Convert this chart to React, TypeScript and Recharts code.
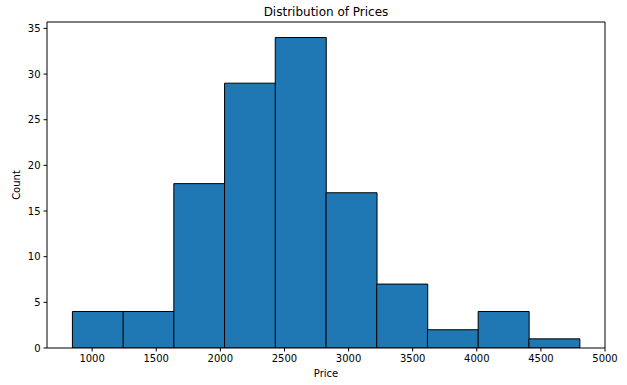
import { Bar, BarChart, XAxis, YAxis, Label, ReferenceLine } from "recharts";

// histogram bins (edges) and counts
const binStart = [846, 1242, 1637, 2033, 2428, 2824, 3220, 3615, 4011, 4406];
const binEnd = [1242, 1637, 2033, 2428, 2824, 3220, 3615, 4011, 4406, 4802];
const counts = [4, 4, 18, 29, 34, 17, 7, 2, 4, 1];

const xTicks = [1000, 1500, 2000, 2500, 3000, 3500, 4000, 4500, 5000];
const yTicks = [0, 5, 10, 15, 20, 25, 30, 35];

const X_DOMAIN: [number, number] = [648, 5000];
const Y_DOMAIN: [number, number] = [0, 35.7];

const data = counts.map((c, i) => ({
  mid: (binStart[i] + binEnd[i]) / 2,
  count: c,
}));

const FONT = "DejaVu Sans, sans-serif";
const tickStyle = { fontSize: 10, fill: "#000", fontFamily: FONT };

export default function App() {
  return (
    <div style={{ position: "absolute", left: 0, top: 0, width: 627, height: 385, background: "#fff" }}>
      <BarChart
        width={627}
        height={385}
        data={data}
        margin={{ top: 22, right: 22, bottom: 17, left: 10 }}
        barCategoryGap={0}
        barGap={0}
      >
        <text x={326} y={16} textAnchor="middle" fontSize={12} fontFamily={FONT} fill="#000">
          Distribution of Prices
        </text>
        <XAxis
          dataKey="mid"
          type="number"
          domain={X_DOMAIN}
          ticks={xTicks}
          allowDataOverflow
          tick={tickStyle}
          tickSize={3.5}
          tickMargin={3}
          stroke="#000"
          height={20}
        >
          <Label value="Price" position="insideBottom" offset={-9} style={{ fontSize: 10, fill: "#000", fontFamily: FONT }} />
        </XAxis>
        <YAxis
          domain={Y_DOMAIN}
          ticks={yTicks}
          allowDataOverflow
          tick={tickStyle}
          tickSize={3.5}
          tickMargin={3}
          stroke="#000"
          width={37}
        >
          <Label value="Count" angle={-90} position="insideLeft" offset={6} style={{ fontSize: 10, fill: "#000", fontFamily: FONT, textAnchor: "middle" }} />
        </YAxis>
        <Bar dataKey="count" fill="#1f77b4" stroke="#000" strokeWidth={1} isAnimationActive={false} />
        {/* top and right spines */}
        <ReferenceLine y={Y_DOMAIN[1]} stroke="#000" ifOverflow="visible" />
        <ReferenceLine x={X_DOMAIN[1]} stroke="#000" ifOverflow="visible" />
      </BarChart>
    </div>
  );
}
